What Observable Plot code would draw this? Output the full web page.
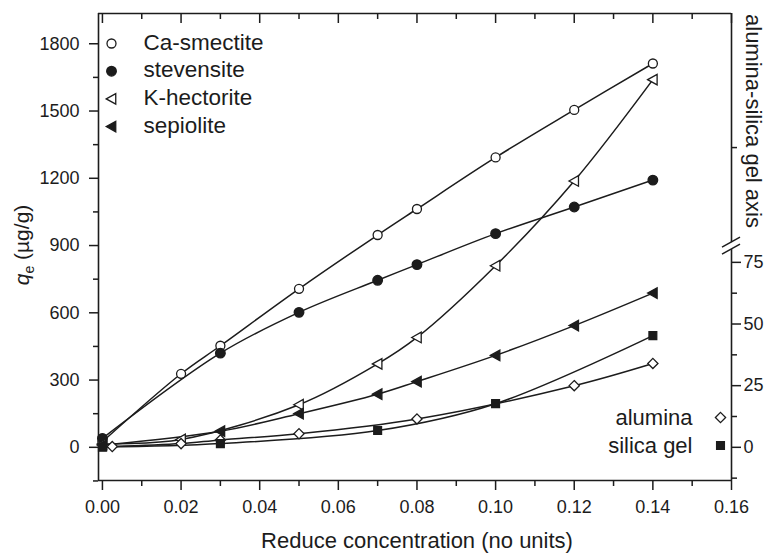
<!DOCTYPE html>
<html><head><meta charset="utf-8">
<script src="https://cdn.jsdelivr.net/npm/d3@7"></script>
<script src="https://cdn.jsdelivr.net/npm/@observablehq/plot@0.6"></script>
<style>body{margin:0;background:#fff} svg{display:block}</style>
</head><body><div id="chart"></div>
<script>
// ---- data (left axis units, µg/g) ----
const caSmectiteX = [0, 0.02, 0.03, 0.05, 0.07, 0.08, 0.10, 0.12, 0.14];
const caSmectiteY = [25, 328, 453, 707, 947, 1063, 1293, 1505, 1712];
const stevensiteX = [0, 0.03, 0.05, 0.07, 0.08, 0.10, 0.12, 0.14];
const stevensiteY = [40, 420, 602, 745, 815, 953, 1072, 1192];
const kHectoriteX = [0, 0.02, 0.05, 0.07, 0.08, 0.10, 0.12, 0.14];
const kHectoriteY = [15, 35, 190, 372, 490, 810, 1188, 1640];
const sepioliteX = [0, 0.03, 0.05, 0.07, 0.08, 0.10, 0.12, 0.14];
const sepioliteY = [10, 72, 150, 237, 293, 410, 543, 688];
// ---- data (right "alumina-silica gel" axis units) ----
const aluminaX = [0.0025, 0.02, 0.03, 0.05, 0.08, 0.12, 0.14];
const aluminaY = [0.3, 1.5, 3, 5.5, 11.5, 25, 34];
const silicaX = [0, 0.03, 0.07, 0.10, 0.14];
const silicaY = [0, 1.5, 6.8, 17.7, 45.3];

// ---- ticks ----
const xMajor = [0, 0.02, 0.04, 0.06, 0.08, 0.10, 0.12, 0.14, 0.16];
const xMinor = [0.01, 0.03, 0.05, 0.07, 0.09, 0.11, 0.13, 0.15];
const yMajor = [0, 300, 600, 900, 1200, 1500, 1800];
const yMinor = [-150, 150, 450, 750, 1050, 1350, 1650];
const rightMajor = [0, 25, 50, 75];
const rightMinor = [-12.5, 12.5, 37.5, 62.5];
const rightUpperTicks = [1337];       // in left-axis units (above the break)
const legendTop = ["Ca-smectite", "stevensite", "K-hectorite", "sepiolite"];
const legendBottom = ["alumina", "silica gel"];

const K = 11;                 // left units per right-axis unit
const X0 = -0.001, X1 = 0.16, Y0 = -148, Y1 = 1935;
const breakLow = 882, breakHigh = 913;
const font = "'Liberation Sans', Arial, Helvetica, sans-serif";
const ink = "#1c1c1c";
const frameH = 553 - 13 - 73;

const rows = (name, xs, ys, f = 1) => xs.map((x, i) => ({series: name, x, y: ys[i] * f}));
const leftData = [
  ...rows("Ca-smectite", caSmectiteX, caSmectiteY),
  ...rows("stevensite", stevensiteX, stevensiteY),
  ...rows("K-hectorite", kHectoriteX, kHectoriteY),
  ...rows("sepiolite", sepioliteX, sepioliteY),
  ...rows("alumina", aluminaX, aluminaY, K),
  ...rows("silica gel", silicaX, silicaY, K)
];
const leftTri = {draw(ctx, size) {
  const r = Math.sqrt(size / Math.PI);
  ctx.moveTo(-r * 1.05, 0); ctx.lineTo(r * 0.85, -r * 1.05); ctx.lineTo(r * 0.85, r * 1.05); ctx.closePath();
}};
const styles = {
  "Ca-smectite": {symbol: "circle", fill: "white", r: 4.5},
  "stevensite": {symbol: "circle", fill: ink, r: 4.8},
  "K-hectorite": {symbol: leftTri, fill: "white", r: 5},
  "sepiolite": {symbol: leftTri, fill: ink, r: 5},
  "alumina": {symbol: "diamond2", fill: "white", r: 4.6},
  "silica gel": {symbol: "square", fill: ink, r: 4.4}
};
const dotMarks = Object.keys(styles).map(s => Plot.dot(leftData.filter(d => d.series === s), {
  x: "x", y: "y", symbol: styles[s].symbol, r: styles[s].r, fill: styles[s].fill, stroke: ink, strokeWidth: 1.3
}));
const legendMarks = [];
legendTop.forEach((s, i) => {
  legendMarks.push(Plot.dot([s], {x: null, y: null, frameAnchor: "top-left", dx: 13, dy: 30 + i * 27.7,
    symbol: styles[s].symbol, r: styles[s].r, fill: styles[s].fill, stroke: ink, strokeWidth: 1.3}));
  legendMarks.push(Plot.text([s], {x: null, y: null, frameAnchor: "top-left", dx: 45, dy: 29 + i * 27.7,
    textAnchor: "start", lineAnchor: "middle", fontSize: 22.5, fill: ink}));
});
legendBottom.forEach((s, i) => {
  legendMarks.push(Plot.dot([s], {x: null, y: null, frameAnchor: "bottom-right", dx: -11, dy: -63 + i * 28,
    symbol: styles[s].symbol, r: styles[s].r, fill: styles[s].fill, stroke: ink, strokeWidth: 1.3}));
  legendMarks.push(Plot.text([s], {x: null, y: null, frameAnchor: "bottom-right", dx: -39, dy: -63 + i * 28,
    textAnchor: "end", lineAnchor: "middle", fontSize: 22, fill: ink}));
});
const noText = () => "";
const fw = 1.6;

const plot = Plot.plot({
  width: 769, height: 553,
  marginLeft: 98, marginRight: 38, marginTop: 13, marginBottom: 73,
  x: {domain: [X0, X1], label: null},
  y: {domain: [Y0, Y1], label: null},
  style: {fontFamily: font, background: "#fff", color: ink},
  marks: [
    Plot.ruleX([X0], {stroke: ink, strokeWidth: fw}),
    Plot.ruleY([Y0, Y1], {stroke: ink, strokeWidth: fw}),
    Plot.ruleX([X1], {y1: Y0, y2: breakLow, stroke: ink, strokeWidth: fw}),
    Plot.ruleX([X1], {y1: breakHigh, y2: Y1, stroke: ink, strokeWidth: fw}),
    Plot.axisX(xMajor, {anchor: "bottom", tickSize: 10, tickPadding: 10, tickFormat: d3.format(".2f"), fontSize: 18, label: null, strokeWidth: 1.5}),
    Plot.axisX(xMinor, {anchor: "bottom", tickSize: 6, tickFormat: noText, label: null, strokeWidth: 1.5}),
    // inward ticks along the top edge
    Plot.tickX(xMajor, {x: d => d, insetBottom: frameH - 10, stroke: ink, strokeWidth: 1.5}),
    Plot.tickX(xMinor, {x: d => d, insetBottom: frameH - 6, stroke: ink, strokeWidth: 1.5}),
    Plot.axisY(yMajor, {anchor: "left", tickSize: 9, tickPadding: 10, tickFormat: d3.format("d"), fontSize: 18, label: null, strokeWidth: 1.5}),
    Plot.axisY(yMinor, {anchor: "left", tickSize: 5, tickFormat: noText, label: null, strokeWidth: 1.5}),
    Plot.axisY(rightMajor.map(v => v * K), {anchor: "right", tickSize: 9, tickPadding: 3, tickFormat: d => d3.format("d")(Math.round(d / K)), fontSize: 18, label: null, strokeWidth: 1.5}),
    Plot.axisY(rightMinor.map(v => v * K).concat(rightUpperTicks), {anchor: "right", tickSize: 5, tickFormat: noText, label: null, strokeWidth: 1.5}),
    Plot.line(leftData, {x: "x", y: "y", z: "series", curve: "catmull-rom", stroke: ink, strokeWidth: 1.5}),
    ...dotMarks,
    ...legendMarks,
    Plot.text(["Reduce concentration (no units)"], {x: null, y: null, frameAnchor: "bottom", lineAnchor: "middle", dx: 2, dy: 60, fontSize: 22, fill: ink})
  ]
});

const svg = d3.select(plot);
// y-axis label with italic q and subscript e
const t = svg.append("text").attr("transform", "translate(29,245) rotate(-90)")
  .attr("text-anchor", "middle").attr("font-size", 21).attr("font-family", font).attr("fill", ink);
t.append("tspan").attr("font-style", "italic").text("q");
t.append("tspan").attr("font-size", 14).attr("dy", 5).text("e");
t.append("tspan").attr("dy", -5).text(" (µg/g)");

// right axis title
svg.append("text").attr("transform", "translate(746,121) rotate(90)")
  .attr("text-anchor", "middle").attr("font-size", 22).attr("font-family", font).attr("fill", ink)
  .text("alumina-silica gel axis");

// axis break marks on the right axis
const sx = plot.scale("x"), sy = plot.scale("y");
const bx = sx.apply(X1), by = sy.apply((breakLow + breakHigh) / 2);
[-3.5, 3.5].forEach(o => {
  svg.append("line").attr("x1", bx - 9).attr("y1", by + o + 5).attr("x2", bx + 9).attr("y2", by + o - 5)
    .attr("stroke", ink).attr("stroke-width", 1.5);
});

document.getElementById("chart").appendChild(plot);
</script>
</body></html>
